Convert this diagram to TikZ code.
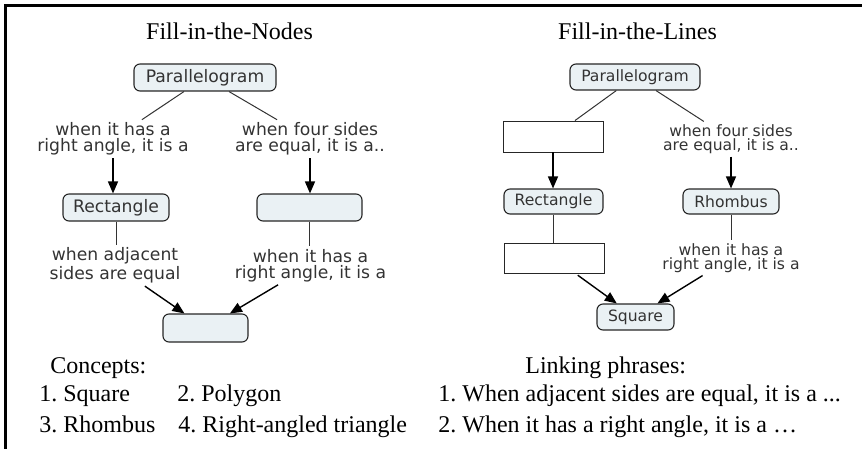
\documentclass[tikz,border=0pt]{standalone}
\usepackage{fontspec}
\setmainfont{Liberation Serif}
\newfontfamily\cmapfont{DejaVu Sans}
\usepackage{xcolor}
\usepackage{tikz}
\usetikzlibrary{arrows.meta}
\frenchspacing
\definecolor{nodofondo}{HTML}{EAF1F4}
\definecolor{gristexto}{HTML}{333333}
\tikzset{
  nodo/.style   = {draw=black!85, fill=nodofondo, rounded corners=3pt, line width=0.55pt, inner sep=0pt, text=gristexto},
  caja/.style   = {draw=black!85, fill=white, line width=0.45pt, inner sep=0pt},
  frase/.style  = {align=center, inner sep=1pt, outer sep=0.5pt, text=gristexto},
  linea/.style  = {gristexto, line width=0.5pt},
  flecha/.style = {-{Triangle[width=5pt,length=6pt]}, black, line width=0.7pt},
  izq/.style    = {font=\cmapfont\fontsize{8.6}{8}\selectfont},
  der/.style    = {font=\cmapfont\fontsize{7.8}{7}\selectfont},
  texto/.style  = {anchor=base west, inner sep=0pt, font=\fontsize{12}{14}\selectfont}
}
\begin{document}
\begin{tikzpicture}[x=0.5pt, y=-0.5pt]
  \useasboundingbox (0,0) rectangle (862,449);
  \draw[line width=1.1pt] (862,5.5) -- (5.5,5.5) -- (5.5,449);
  \node[anchor=base, inner sep=0pt, font=\fontsize{12}{14}\selectfont] (tit1) at (229.5,40) {Fill-in-the-Nodes};
  \node[anchor=base, inner sep=0pt, font=\fontsize{12}{14}\selectfont] (tit2) at (637.5,40) {Fill-in-the-Lines};
  % mapa izquierdo
  \node[nodo, izq, minimum width=71pt, minimum height=13.5pt] (par1) at (205,77.5) {Parallelogram};
  \node[frase, izq] (f1) at (113,139) {when it has a\\right angle, it is a};
  \node[frase, izq] (f2) at (310,139) {when four sides\\are equal, it is a..};
  \node[nodo, izq, minimum width=53pt, minimum height=13.5pt] (rect1) at (116,207.5) {Rectangle};
  \node[nodo, minimum width=52.5pt, minimum height=13.5pt] (vac1) at (309.5,207.5) {};
  \node[frase, izq] (f3) at (115,265.5) {when adjacent\\sides are equal};
  \node[frase, izq] (f4) at (310.5,265.5) {when it has a\\right angle, it is a};
  \node[nodo, minimum width=42.5pt, minimum height=14pt] (vac2) at (205.5,328) {};
  \draw[linea] (par1) -- (f1);
  \draw[linea] (par1) -- (f2);
  \draw[flecha] (f1.south) -- (f1.south |- rect1.north);
  \draw[flecha] (f2.south) -- (f2.south |- vac1.north);
  \draw[linea] (rect1.south) -- (rect1.south |- f3.north);
  \draw[linea] (vac1.south) -- (vac1.south |- f4.north);
  \draw[flecha] (f3) -- (vac2);
  \draw[flecha] (f4) -- (vac2);
  % mapa derecho
  \node[nodo, der, minimum width=65pt, minimum height=13pt] (par2) at (635,77) {Parallelogram};
  \node[caja, minimum width=50pt, minimum height=15.5pt] (caja1) at (553,136.5) {};
  \node[frase, der] (f5) at (731,139) {when four sides\\are equal, it is a..};
  \node[nodo, der, minimum width=49.5pt, minimum height=12.5pt] (rect2) at (553.5,201.5) {Rectangle};
  \node[nodo, der, minimum width=48pt, minimum height=12.5pt] (romb) at (731,201.5) {Rhombus};
  \node[caja, minimum width=50pt, minimum height=15pt] (caja2) at (554,258) {};
  \node[frase, der] (f6) at (731,258) {when it has a\\right angle, it is a};
  \node[nodo, der, minimum width=38.5pt, minimum height=13pt] (cuad) at (635.5,317) {Square};
  \draw[linea] (par2) -- (caja1);
  \draw[linea] (par2) -- (f5);
  \draw[flecha] (caja1.south) -- (caja1.south |- rect2.north);
  \draw[flecha] (f5.south) -- (f5.south |- romb.north);
  \draw[linea] (rect2.south) -- (rect2.south |- caja2.north);
  \draw[linea] (romb.south) -- (romb.south |- f6.north);
  \draw[flecha, shorten <=1.5pt] (caja2) -- (cuad);
  \draw[flecha] (f6) -- (cuad);
  % listas
  \node[texto] (conc) at (50,373) {Concepts:};
  \node[texto] (c1) at (39,401) {1. Square};
  \node[texto] (c2) at (177,401) {2. Polygon};
  \node[texto] (c3) at (39,432) {3. Rhombus};
  \node[texto] (c4) at (178,432) {4. Right-angled triangle};
  \node[texto] (link) at (525,373) {Linking phrases:};
  \node[texto] (l1) at (438,401) {1. When adjacent sides are equal, it is a ...};
  \node[texto] (l2) at (438,432) {2. When it has a right angle, it is a …};
\end{tikzpicture}
\end{document}
